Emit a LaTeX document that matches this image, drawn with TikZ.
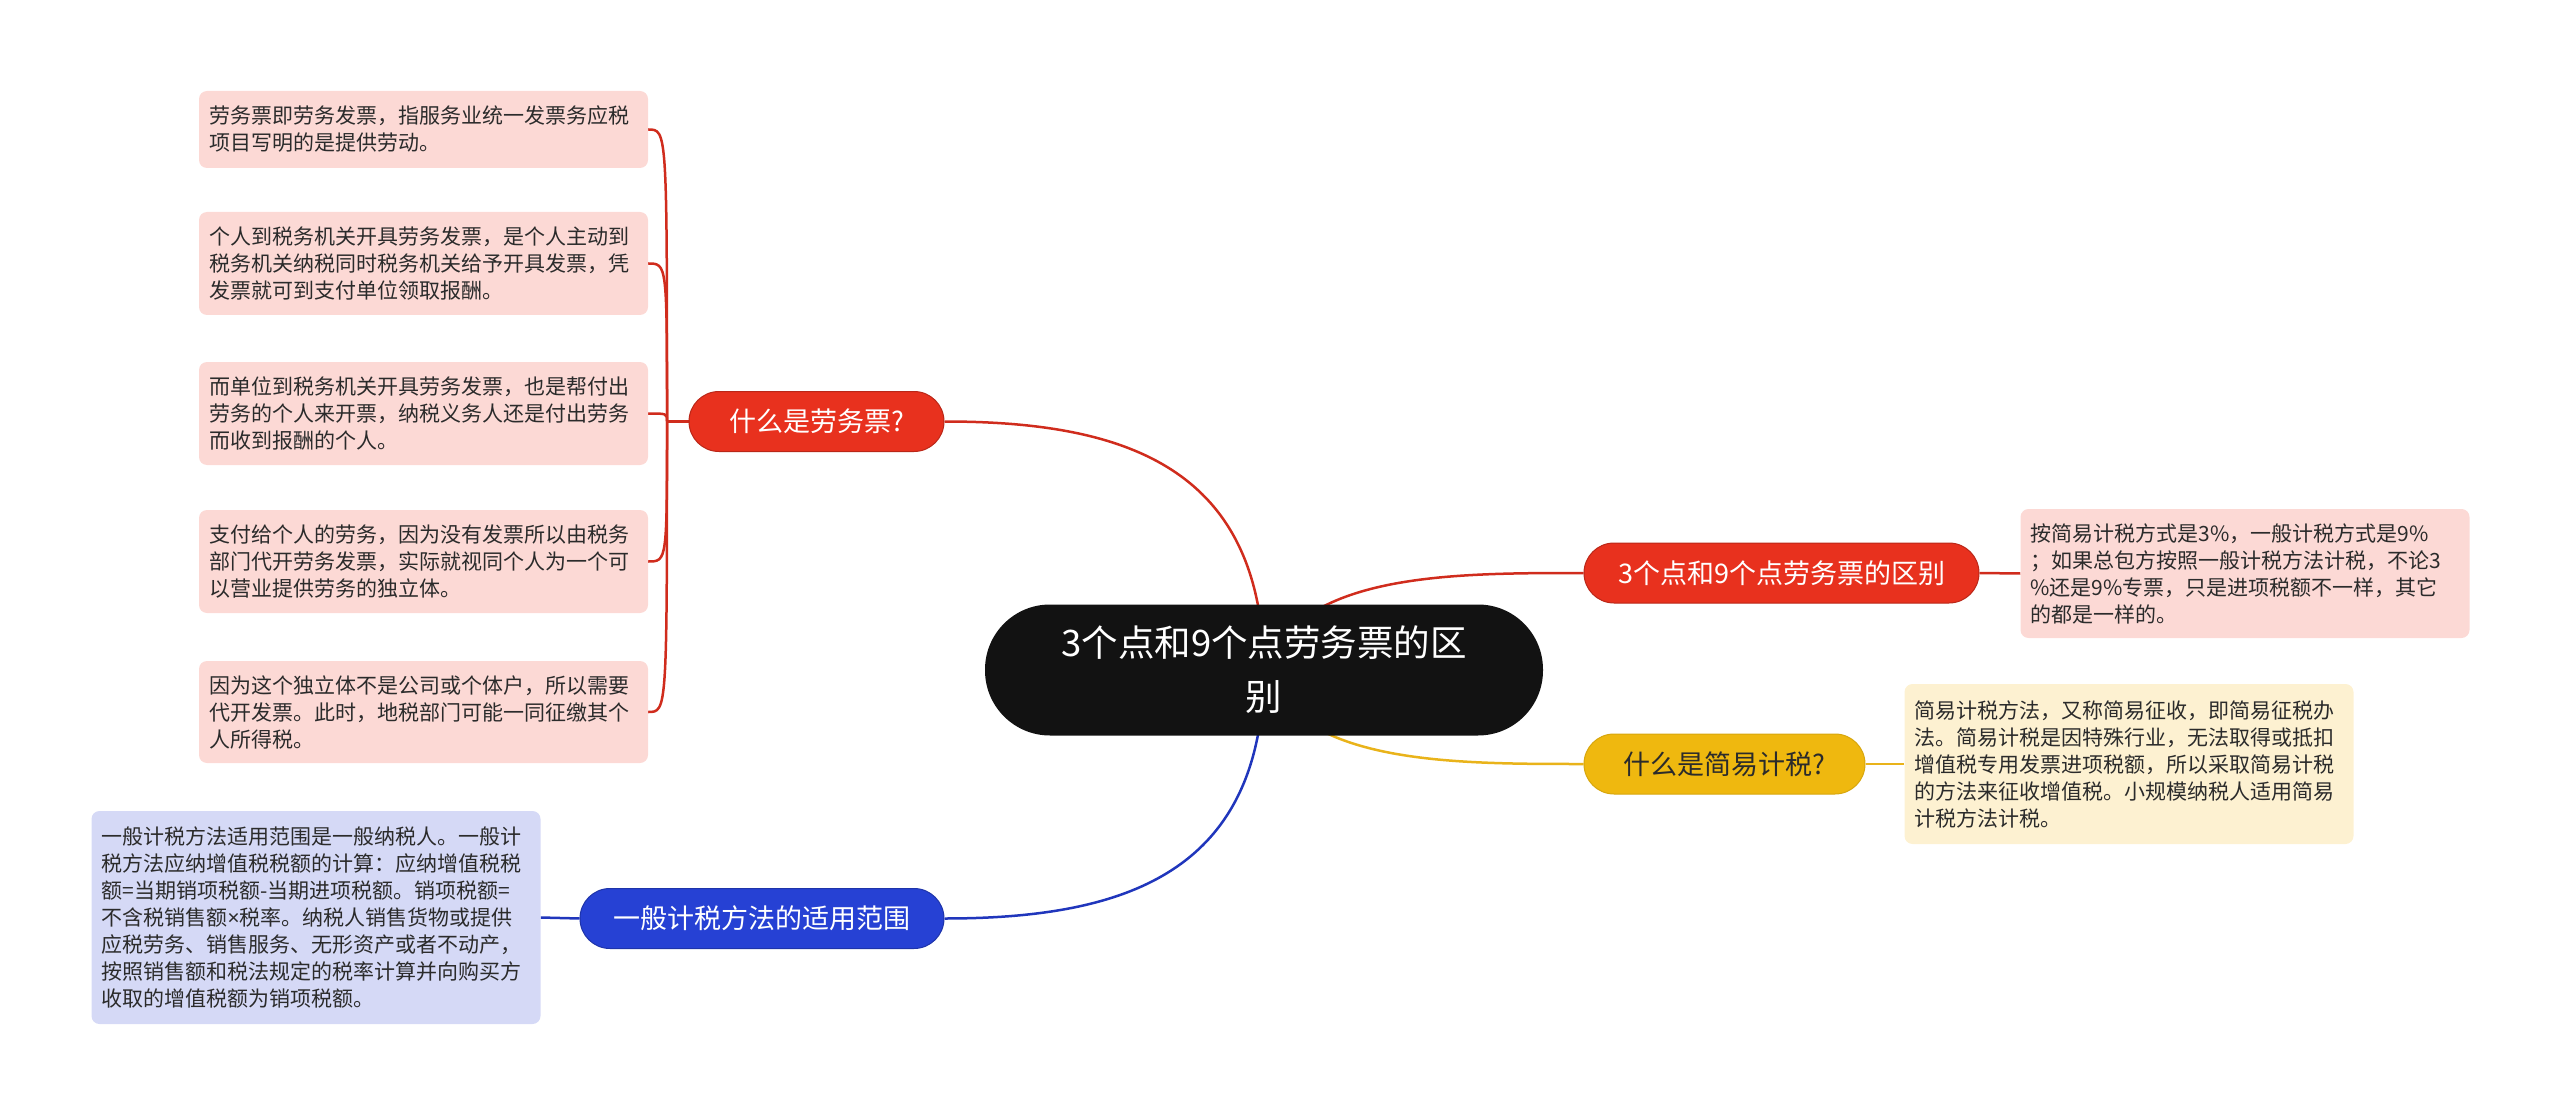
\documentclass[tikz,border=0pt]{standalone}
\usepackage{fontspec}
\setmainfont{Noto Sans CJK SC}
\newfontfamily\latinfont{Noto Sans}
\usepackage{xcolor}
\usepackage{tikz}
\usetikzlibrary{backgrounds}
\definecolor{rootblack}{HTML}{121212}
\definecolor{ink}{HTML}{2B2B2B}
\definecolor{redbr}{HTML}{E8311E}
\definecolor{redline}{HTML}{D02C1D}
\definecolor{pinkbox}{HTML}{FCD9D5}
\definecolor{bluebr}{HTML}{2641D4}
\definecolor{blueline}{HTML}{2036BC}
\definecolor{bluebox}{HTML}{D5D9F6}
\definecolor{yellowbr}{HTML}{EFB80F}
\definecolor{yellowline}{HTML}{E9B31A}
\definecolor{yellowbox}{HTML}{FDF1D1}

\begin{document}
\begin{tikzpicture}[
  x=1pt,y=-1pt,
  root/.style={fill=rootblack,text=white,rounded corners=65pt,align=center,
               minimum width=558pt,minimum height=131pt,inner sep=0pt,
               font=\fontsize{36.5}{54}\selectfont},
  branch/.style={rounded corners=30pt,minimum height=60pt,inner sep=0pt,
                 line width=1pt,font=\fontsize{27}{32}\selectfont},
  redbranch/.style={branch,fill=redbr,draw=redbr!80!black,text=white},
  bluebranch/.style={branch,fill=bluebr,draw=bluebr!80!black,text=white},
  yellowbranch/.style={branch,fill=yellowbr,draw=yellowbr!90!black,text=ink},
  leaf/.style={rounded corners=8pt,align=left,text width=429pt,inner xsep=10pt,
               inner ysep=0pt,text=ink,font=\fontsize{21}{27}\selectfont},
  pinkleaf/.style={leaf,fill=pinkbox},
  blueleaf/.style={leaf,fill=bluebox},
  yellowleaf/.style={leaf,fill=yellowbox},
  redln/.style={draw=redline,line width=2.5pt},
  blueln/.style={draw=blueline,line width=2.5pt},
  yellowln/.style={draw=yellowline,line width=2.5pt},
]
\useasboundingbox (0,0) rectangle (2560,1115);

% ---- Root
\node[root] (root) at (1264,670) {3个点和9个点劳务票的区\\别};

% ---- Branches
\node[redbranch,minimum width=255pt] (q1) at (816.5,421.5) {什么是劳务票?};
\node[bluebranch,minimum width=364pt] (q2) at (762,918.5) {一般计税方法的适用范围};
\node[redbranch,minimum width=395pt] (q3) at (1781.5,573) {3个点和9个点劳务票的区别};
\node[yellowbranch,minimum width=281pt] (q4) at (1724.5,764) {什么是简易计税?};

% ---- Leaves of q1
\node[pinkleaf,minimum height=77pt] (p1) at (423.5,129.5)
     {劳务票即劳务发票，指服务业统一发票务应税\\项目写明的是提供劳动。};
\node[pinkleaf,minimum height=103pt] (p2) at (423.5,263.5)
     {个人到税务机关开具劳务发票，是个人主动到\\税务机关纳税同时税务机关给予开具发票，凭\\发票就可到支付单位领取报酬。};
\node[pinkleaf,minimum height=103pt] (p3) at (423.5,413.5)
     {而单位到税务机关开具劳务发票，也是帮付出\\劳务的个人来开票，纳税义务人还是付出劳务\\而收到报酬的个人。};
\node[pinkleaf,minimum height=103pt] (p4) at (423.5,561.5)
     {支付给个人的劳务，因为没有发票所以由税务\\部门代开劳务发票，实际就视同个人为一个可\\以营业提供劳务的独立体。};
\node[pinkleaf,minimum height=102pt] (p5) at (423.5,712)
     {因为这个独立体不是公司或个体户，所以需要\\代开发票。此时，地税部门可能一同征缴其个\\人所得税。};

% ---- Other leaves
\node[blueleaf,minimum height=213pt] (b1) at (316,917.5)
     {一般计税方法适用范围是一般纳税人。一般计\\税方法应纳增值税税额的计算：应纳增值税税\\额=当期销项税额-当期进项税额。销项税额=\\不含税销售额{\latinfont ×}税率。纳税人销售货物或提供\\应税劳务、销售服务、无形资产或者不动产，\\按照销售额和税法规定的税率计算并向购买方\\收取的增值税额为销项税额。};
\node[pinkleaf,minimum height=129pt] (r1) at (2245,573.5)
     {按简易计税方式是3\%，一般计税方式是9\%\\；如果总包方按照一般计税方法计税，不论3\\\%还是9\%专票，只是进项税额不一样，其它\\的都是一样的。};
\node[yellowleaf,minimum height=160pt] (y1) at (2129,764)
     {简易计税方法，又称简易征收，即简易征税办\\法。简易计税是因特殊行业，无法取得或抵扣\\增值税专用发票进项税额，所以采取简易计税\\的方法来征收增值税。小规模纳税人适用简易\\计税方法计税。};

% ---- Connectors
\begin{scope}[on background layer]
\draw[redln] (root.center) .. controls (1262,470) and (1130,421.5) .. (q1.east);
\draw[blueln] (root.center) .. controls (1262,870) and (1130,918.5) .. (q2.east);
\draw[redln] (root.center) .. controls (1300,573) and (1450,573) .. (q3.west);
\draw[yellowln] (root.center) .. controls (1300,764) and (1450,764) .. (q4.west);

\coordinate (t1) at (667,421.5);
\draw[redln] (q1.west) -- (t1);
\foreach \p in {p1,p2,p3,p4,p5}
  \draw[redln] (t1) .. controls (t1 |- \p.east) .. (\p.east);

\draw[blueln] (q2.west) -- (b1.east);
\draw[redln] (q3.east) -- (r1.west);
\draw[yellowln] (q4.east) -- (y1.west);
\end{scope}

\end{tikzpicture}
\end{document}
